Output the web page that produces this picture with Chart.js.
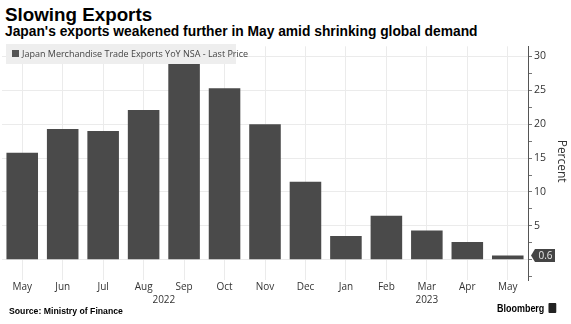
<!DOCTYPE html>
<html><head><meta charset="utf-8">
<script src="https://cdn.jsdelivr.net/npm/chart.js@4"></script>
<style>
html,body{margin:0;padding:0;background:#fff;width:571px;height:324px;overflow:hidden;}
#wrap{position:relative;width:571px;height:324px;}
.t{position:absolute;white-space:nowrap;color:#000;font-family:"Liberation Sans",Arial,sans-serif;}
#title{left:5px;top:4px;font-size:18.8px;font-weight:bold;}
#sub{left:5px;top:24px;font-size:13.8px;font-weight:bold;}
#src{left:9px;top:306px;font-size:8.7px;font-weight:bold;}
#bbg{left:497px;top:302px;font-size:11.5px;font-weight:bold;transform:scaleX(0.78);transform-origin:0 0;}
#bbg span{display:inline-block;width:10px;height:10px;background:#222;margin-left:5px;border-radius:1px;vertical-align:-1px;}
#legend{position:absolute;left:6px;top:44px;height:20px;width:230px;background:#eeeeee;font-family:"Open Sans",sans-serif;font-size:9px;color:#444;line-height:20px;white-space:nowrap;}
#legend i{display:inline-block;width:7px;height:7px;background:#555;margin:0 3px 0 6px;vertical-align:0px;}
canvas{position:absolute;left:0;top:38px;}
</style></head>
<body><div id="wrap">
<div class="t" id="title">Slowing Exports</div>
<div class="t" id="sub">Japan's exports weakened further in May amid shrinking global demand</div>
<canvas id="c" width="571" height="286"></canvas>
<div id="legend"><i></i>Japan Merchandise Trade Exports YoY NSA - Last Price</div>
<div class="t" id="src">Source: Ministry of Finance</div>
<div class="t" id="bbg">Bloomberg<span></span></div>
</div>
<script>
const months = ['May','Jun','Jul','Aug','Sep','Oct','Nov','Dec','Jan','Feb','Mar','Apr','May'];
const exportsYoY = [15.8, 19.3, 19.0, 22.1, 28.9, 25.3, 20.0, 11.5, 3.5, 6.5, 4.3, 2.6, 0.6];
const years = ['2022','2023'];
const yearStart = [0, 8];
const yearEnd = [7, 12];
const yTicks = [0,5,10,15,20,25,30];

const extras = {
  id:'extras',
  afterDraw(chart){
    const ctx = chart.ctx, x = chart.scales.x, y = chart.scales.y;
    ctx.save();
    ctx.fillStyle = '#333';
    ctx.font = '10px "Open Sans", sans-serif';
    ctx.textAlign = 'center'; ctx.textBaseline = 'middle';
    years.forEach((yr,i)=>{
      const cx = (x.getPixelForValue(yearStart[i]) + x.getPixelForValue(yearEnd[i]))/2;
      ctx.fillText(yr, cx, x.top + 20);
    });
    ctx.save();
    ctx.translate(561, (y.top + y.bottom)/2 - 2);
    ctx.rotate(Math.PI/2);
    ctx.font = '12px "Open Sans", sans-serif';
    ctx.fillStyle = '#333';
    ctx.fillText('Percent', 0, 0);
    ctx.restore();
    const last = exportsYoY[exportsYoY.length-1];
    const py = y.getPixelForValue(last);
    const bx = y.left + 3;
    ctx.fillStyle = '#444';
    ctx.beginPath();
    ctx.moveTo(bx, py);
    ctx.lineTo(bx+4, py-6.5);
    ctx.lineTo(bx+24, py-6.5);
    ctx.lineTo(bx+24, py+6.5);
    ctx.lineTo(bx+4, py+6.5);
    ctx.closePath();
    ctx.fill();
    ctx.fillStyle = '#e8e8e8';
    ctx.font = '10px "Open Sans", sans-serif';
    ctx.textAlign = 'center';
    ctx.fillText(last.toFixed(1), bx+14.5, py+0.5);
    ctx.restore();
  }
};

new Chart(document.getElementById('c'), {
  type:'bar',
  data:{labels:months, datasets:[{data:exportsYoY, backgroundColor:'#4a4a4a', borderWidth:0, barPercentage:0.78, categoryPercentage:1}]},
  options:{
    responsive:false, animation:false, devicePixelRatio:1,
    layout:{padding:{left:2, top:4, right:0, bottom:0}},
    plugins:{legend:{display:false}, tooltip:{enabled:false}},
    scales:{
      x:{
        grid:{offset:false, color:'#ebebeb', drawTicks:false},
        border:{display:false},
        ticks:{color:'#333', font:{family:'"Open Sans", sans-serif', size:10}, padding:1, maxRotation:0, autoSkip:false},
        afterFit(s){ s.height = 44; }
      },
      y:{
        position:'right', min:-3, max:31.5,
        afterBuildTicks(s){ const t=[]; for(let v=-2.5; v<=30; v+=2.5) t.push({value:v}); s.ticks=t; },
        grid:{color:c=> (c.tick && c.tick.value%5===0 && c.tick.value>=0) ? '#ebebeb' : 'rgba(0,0,0,0)', tickColor:'#777', tickLength:4},
        border:{display:true, color:'#555'},
        ticks:{color:'#333', font:{family:'"Open Sans", sans-serif', size:10.5}, padding:2,
          callback:v=> yTicks.includes(v) && v>0 ? String(v) : ''},
        afterFit(s){ s.width = 43; }
      }
    }
  },
  plugins:[extras]
});
</script>
</body></html>
